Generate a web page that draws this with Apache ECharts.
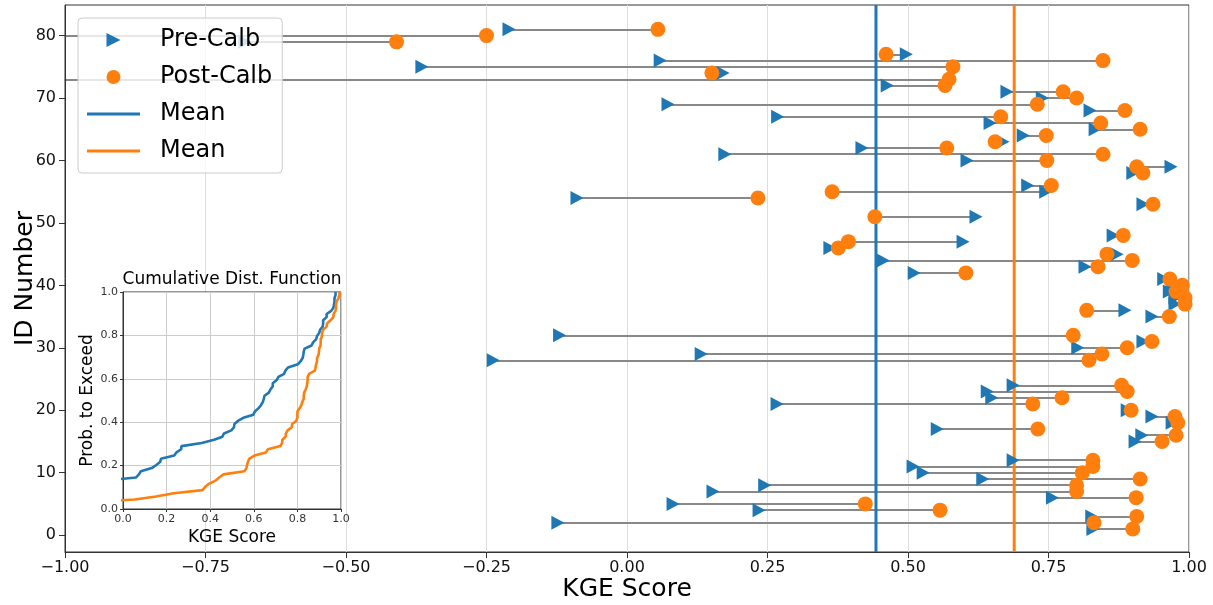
<!DOCTYPE html>
<html>
<head>
<meta charset="utf-8">
<script src="https://cdn.jsdelivr.net/npm/echarts@6/dist/echarts.min.js"></script>
<style>
  html, body { margin: 0; padding: 0; background: #fff; }
  #main { width: 1213px; height: 605px; }
</style>
</head>
<body>
<div id="main"></div>
<script>
// station ids, top to bottom
var ids = [81, 80, 79, 77, 76, 75, 74, 73, 72, 71, 70, 69, 68, 67, 66, 65, 64, 63, 62, 61, 60, 59, 58,
  56, 55, 54, 53, 51, 48, 47, 46, 45, 44, 43, 42, 41, 40, 39, 38, 37, 36, 35, 32, 31, 30, 29, 28,
  24, 23, 22, 21, 20, 19, 18, 17, 16, 15, 12, 11, 10, 9, 8, 7, 6, 5, 4, 3, 2, 1];
// KGE before calibration (80 and 73 are off the left edge)
var preCalb = [-0.21, -1.3, -0.68, 0.497, 0.059, -0.365, 0.171, -1.4, 0.463, 0.676, 0.739, 0.073, 0.824,
  0.268, 0.646, 0.833, 0.705, 0.669, 0.418, 0.174, 0.605, 0.968, 0.90,
  0.713, 0.745, -0.089, 0.918, 0.621,
  0.865, 0.598, 0.361, 0.872, 0.456, 0.815, 0.511, 0.955, 0.97, 0.965, 0.975, 0.975, 0.886, 0.934,
  -0.12, 0.918, 0.802, 0.132, -0.238,
  0.687, 0.641, 0.649, 0.267, 0.89, 0.934, 0.97, 0.552, 0.916, 0.904,
  0.687, 0.509, 0.527, 0.633, 0.245, 0.153, 0.757, 0.082, 0.235, 0.827, -0.123, 0.829];
// KGE after calibration
var postCalb = [0.055, -0.25, -0.41, 0.461, 0.847, 0.58, 0.151, 0.573, 0.566, 0.776, 0.80, 0.73, 0.886,
  0.665, 0.843, 0.913, 0.746, 0.655, 0.569, 0.847, 0.747, 0.907, 0.918,
  0.755, 0.365, 0.233, 0.936, 0.441,
  0.883, 0.394, 0.376, 0.854, 0.899, 0.838, 0.603, 0.966, 0.988, 0.977, 0.993, 0.993, 0.818, 0.965,
  0.794, 0.934, 0.89, 0.845, 0.822,
  0.88, 0.89, 0.774, 0.722, 0.897, 0.975, 0.98, 0.731, 0.977, 0.952,
  0.829, 0.829, 0.81, 0.913, 0.80, 0.80, 0.906, 0.424, 0.557, 0.907, 0.831, 0.90];
var preMean = 0.443;
var postMean = 0.689;
var idTicks = [0, 10, 20, 30, 40, 50, 60, 70, 80];
var yMin = -2.7, yMax = 84.9;

var font = 'DejaVu Sans';
var blue = '#1f77b4', orange = '#ff7f0e';
var triangle = 'path://M0,0 L20,10 L0,20 Z';
var meanIcon = 'path://M0,0 H53 V3 H0 Z';

function cdf(vals) {
  var s = vals.slice().sort(function (a, b) { return a - b; });
  return s.map(function (v, i) { return [v, (i + 1) / s.length]; });
}

var connectors = ids.map(function (id, i) {
  return { coords: [[preCalb[i], id], [postCalb[i], id]] };
});

var option = {
  animation: false,
  textStyle: { fontFamily: font },
  grid: [
    { left: 65, right: 24, top: 5, bottom: 53, show: true, borderColor: '#333', borderWidth: 1, z: 0,
      outerBoundsMode: 'none', containLabel: false },
    { left: 123, top: 292, width: 218, height: 217, show: true, backgroundColor: '#fff',
      borderColor: '#333', borderWidth: 1, z: 5, outerBoundsMode: 'none', containLabel: false }
  ],
  xAxis: [{
    gridIndex: 0, type: 'value', min: -1, max: 1, interval: 0.25, z: 1,
    name: 'KGE Score', nameLocation: 'middle', nameGap: 25, nameMoveOverlap: false,
    nameTextStyle: { fontSize: 25, color: '#000', fontFamily: font },
    axisLine: { onZero: false, lineStyle: { color: '#333' } },
    axisTick: { length: 6, lineStyle: { color: '#333' } },
    axisLabel: { fontSize: 16, color: '#111', margin: 8,
      formatter: function (v) { return v.toFixed(2).replace('-', '\u2212'); } },
    splitLine: { show: true, lineStyle: { color: '#ddd', width: 1 } }
  }, {
    gridIndex: 1, type: 'value', min: 0, max: 1, interval: 0.2, z: 6,
    name: 'KGE Score', nameLocation: 'middle', nameGap: 20, nameMoveOverlap: false,
    nameTextStyle: { fontSize: 17, color: '#000', fontFamily: font },
    axisLine: { onZero: false, lineStyle: { color: '#333' } },
    axisTick: { length: 3, lineStyle: { color: '#333' } },
    axisLabel: { fontSize: 11, color: '#333', margin: 5, formatter: function (v) { return v.toFixed(1); } },
    splitLine: { show: true, lineStyle: { color: '#ccc' } }
  }],
  yAxis: [{
    gridIndex: 0, type: 'value', min: yMin, max: yMax, z: 1,
    name: 'ID Number', nameLocation: 'middle', nameGap: 27, nameMoveOverlap: false,
    nameTextStyle: { fontSize: 25, color: '#000', fontFamily: font },
    axisLine: { show: true, onZero: false, lineStyle: { color: '#333' } },
    axisTick: { show: true, length: 6, customValues: idTicks, lineStyle: { color: '#333' } },
    axisLabel: { fontSize: 16, color: '#111', margin: 9, customValues: idTicks },
    splitLine: { show: false }
  }, {
    gridIndex: 1, type: 'value', min: 0, max: 1, interval: 0.2, z: 6,
    name: 'Prob. to Exceed', nameLocation: 'middle', nameGap: 27, nameMoveOverlap: false,
    nameTextStyle: { fontSize: 17, color: '#000', fontFamily: font },
    axisLine: { show: true, onZero: false, lineStyle: { color: '#333' } },
    axisTick: { show: true, length: 3, lineStyle: { color: '#333' } },
    axisLabel: { fontSize: 11, color: '#333', margin: 5, formatter: function (v) { return v.toFixed(1); } },
    splitLine: { show: true, lineStyle: { color: '#ccc' } }
  }],
  legend: {
    data: [
      { name: 'Pre-Calb' },
      { name: 'Post-Calb' },
      { name: 'Mean pre', icon: meanIcon },
      { name: 'Mean post', icon: meanIcon }
    ],
    formatter: function (n) { return n.indexOf('Mean') === 0 ? 'Mean' : n; },
    orient: 'vertical', left: 78, top: 18, padding: [8, 10, 8, 9],
    itemGap: 9, itemWidth: 53, itemHeight: 14, selectedMode: false,
    textStyle: { fontSize: 24, color: '#000', fontFamily: font, lineHeight: 28, padding: [0, 0, 0, 15] },
    backgroundColor: 'rgba(255,255,255,0.8)', borderColor: '#ccc', borderWidth: 1, borderRadius: 4,
    z: 10
  },
  graphic: [{
    type: 'text', x: 232, y: 280, z: 10,
    style: { text: 'Cumulative Dist. Function', font: '17px "DejaVu Sans"', fill: '#000',
      textAlign: 'center', textVerticalAlign: 'middle' }
  }],
  series: [{
    type: 'lines', coordinateSystem: 'cartesian2d', xAxisIndex: 0, yAxisIndex: 0,
    silent: true, z: 1, clip: true,
    lineStyle: { color: '#888', width: 2, opacity: 1 },
    data: connectors
  }, {
    name: 'Mean pre', type: 'line', xAxisIndex: 0, yAxisIndex: 0, symbol: 'none', z: 2,
    lineStyle: { color: blue, width: 3 }, itemStyle: { color: blue },
    data: [[preMean, yMin], [preMean, yMax]]
  }, {
    name: 'Mean post', type: 'line', xAxisIndex: 0, yAxisIndex: 0, symbol: 'none', z: 2,
    lineStyle: { color: orange, width: 3 }, itemStyle: { color: orange },
    data: [[postMean, yMin], [postMean, yMax]]
  }, {
    name: 'Pre-Calb', type: 'scatter', xAxisIndex: 0, yAxisIndex: 0, z: 3,
    symbol: triangle, symbolSize: [13, 14], itemStyle: { color: blue, opacity: 1 },
    data: ids.map(function (id, i) { return [preCalb[i], id]; })
  }, {
    name: 'Post-Calb', type: 'scatter', xAxisIndex: 0, yAxisIndex: 0, z: 4,
    symbol: 'circle', symbolSize: 15, itemStyle: { color: orange, opacity: 1 },
    data: ids.map(function (id, i) { return [postCalb[i], id]; })
  }, {
    name: 'Pre CDF', type: 'line', xAxisIndex: 1, yAxisIndex: 1, symbol: 'none', z: 7,
    lineStyle: { color: blue, width: 2.6 }, data: cdf(preCalb)
  }, {
    name: 'Post CDF', type: 'line', xAxisIndex: 1, yAxisIndex: 1, symbol: 'none', z: 7,
    lineStyle: { color: orange, width: 2.6 }, data: cdf(postCalb)
  }]
};

var chart = echarts.init(document.getElementById('main'));
chart.setOption(option);
</script>
</body>
</html>
